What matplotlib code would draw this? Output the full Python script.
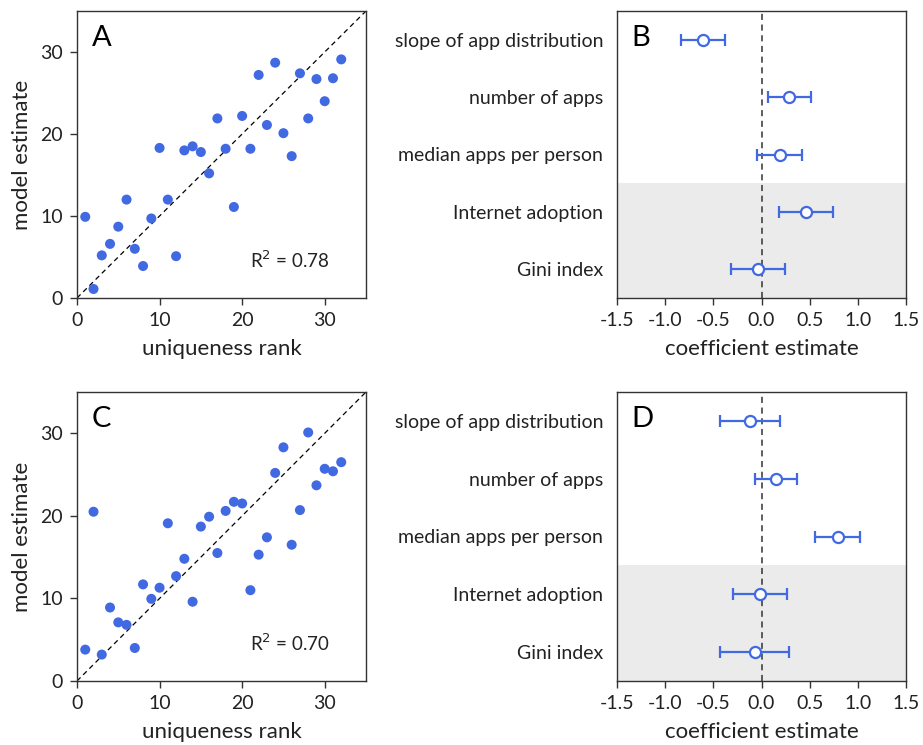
import matplotlib

matplotlib.use("Agg")
import matplotlib.pyplot as plt
import numpy as np

plt.rcParams["font.family"] = ["Lato", "DejaVu Sans"]

# uniqueness rank vs model estimate (panels A and C)
rank = list(range(1, 33))
estimate_a = [9.9, 1.1, 5.2, 6.6, 8.7, 12.0, 6.0, 3.9, 9.7, 18.3, 12.0, 5.1,
              18.0, 18.5, 17.8, 15.2, 21.9, 18.2, 11.1, 22.2, 18.2, 27.2, 21.1, 28.7,
              20.1, 17.3, 27.4, 21.9, 26.7, 24.0, 26.8, 29.1]
estimate_c = [3.8, 20.5, 3.2, 8.9, 7.1, 6.8, 4.0, 11.7, 9.95, 11.3, 19.1, 12.7,
              14.8, 9.6, 18.7, 19.9, 15.5, 20.6, 21.7, 21.5, 11.0, 15.3, 17.4, 25.2,
              28.3, 16.5, 20.7, 30.1, 23.7, 25.7, 25.4, 26.5]
r2_a = 0.78
r2_c = 0.70

# regression coefficients (panels B and D)
predictors = ["slope of app distribution", "number of apps", "median apps per person",
              "Internet adoption", "Gini index"]
coef_b = [-0.61, 0.29, 0.19, 0.46, -0.04]
err_b = [0.23, 0.22, 0.235, 0.28, 0.28]
coef_d = [-0.12, 0.15, 0.79, -0.02, -0.07]
err_d = [0.31, 0.22, 0.23, 0.28, 0.36]

BLUE = "#4169e1"
TXT = "#222222"

fig = plt.figure(figsize=(9.23, 7.45), dpi=100)
W, H = 923, 745


def add_ax(left, top, right, bottom):
    return fig.add_axes([left / W, 1 - bottom / H, (right - left) / W, (bottom - top) / H])


def style(ax):
    for s in ax.spines.values():
        s.set_color("#333333")
        s.set_linewidth(1.0)
    ax.tick_params(direction="out", length=5, width=1, colors="#333333",
                   labelsize=14, labelcolor=TXT, pad=5)


def scatter_panel(ax, y, r2, letter):
    ax.plot([0, 35], [0, 35], ls=(0, (4, 3)), color="black", lw=0.9, zorder=1)
    ax.scatter(rank, y, s=52, color=BLUE, edgecolors="none", zorder=2)
    ax.set_xlim(0, 35)
    ax.set_ylim(0, 35)
    ax.set_xticks([0, 10, 20, 30])
    ax.set_yticks([0, 10, 20, 30])
    ax.set_xlabel("uniqueness rank", fontsize=16, color=TXT, labelpad=7)
    ax.set_ylabel("model estimate", fontsize=16, color=TXT, labelpad=6)
    ax.text(0.05, 0.95, letter, transform=ax.transAxes, fontsize=21, va="top", ha="left")
    ax.text(0.875, 0.095, f"R$^2$ = {r2:.2f}", transform=ax.transAxes, fontsize=13.5,
            ha="right", va="bottom", color=TXT)
    style(ax)


def coef_panel(ax, coef, err, letter):
    ypos = np.arange(len(predictors))
    ax.axhspan(2.5, 4.5, color="#ebebeb", zorder=0, lw=0)
    ax.axvline(0, ls=(0, (4, 3)), color="#333333", lw=1.1, zorder=1)
    ax.errorbar(coef, ypos, xerr=err, fmt="o", color=BLUE, mfc="white", mec=BLUE,
                ms=8, mew=1.6, elinewidth=1.6, capsize=4, capthick=1.6, zorder=3)
    ax.set_xlim(-1.5, 1.5)
    ax.set_ylim(4.5, -0.5)
    ax.set_yticks(ypos)
    ax.set_yticklabels(predictors)
    ax.set_xticks([-1.5, -1.0, -0.5, 0.0, 0.5, 1.0, 1.5])
    ax.set_xticklabels(["-1.5", "-1.0", "-0.5", "0.0", "0.5", "1.0", "1.5"])
    ax.set_xlabel("coefficient estimate", fontsize=16, color=TXT, labelpad=7)
    ax.text(0.05, 0.95, letter, transform=ax.transAxes, fontsize=21, va="top", ha="left")
    style(ax)
    ax.tick_params(axis="y", length=0, pad=10, labelsize=14)


ax_a = add_ax(77, 11, 366, 298)
ax_b = add_ax(617, 11, 906, 298)
ax_c = add_ax(77, 392, 366, 681)
ax_d = add_ax(617, 392, 906, 681)

scatter_panel(ax_a, estimate_a, r2_a, "A")
scatter_panel(ax_c, estimate_c, r2_c, "C")
coef_panel(ax_b, coef_b, err_b, "B")
coef_panel(ax_d, coef_d, err_d, "D")

fig.savefig("out.png", dpi=100)
